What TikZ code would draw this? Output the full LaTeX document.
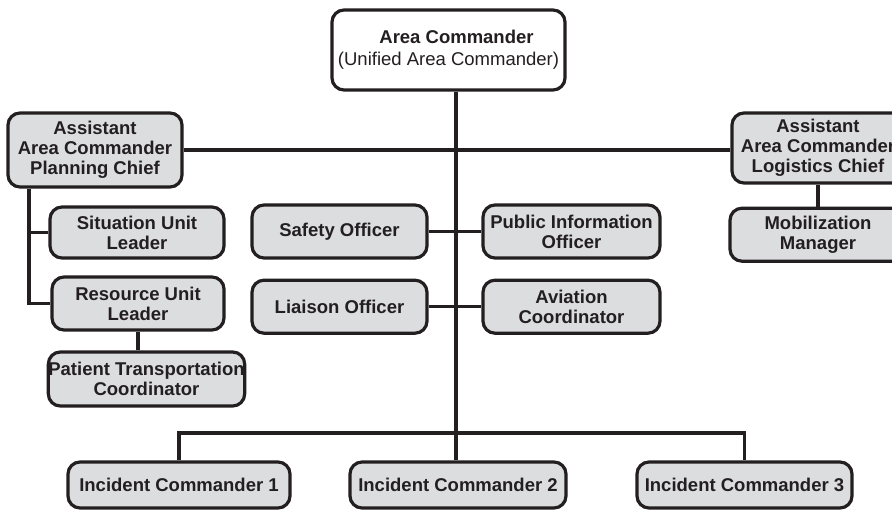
\documentclass[tikz,border=0pt]{standalone}
\usepackage{fontspec}
\setmainfont{Liberation Sans}
\usepackage{tikz}
\usetikzlibrary{positioning,calc}
\definecolor{ink}{HTML}{231F20}
\definecolor{boxgray}{HTML}{DCDDDF}
\tikzset{
    box/.style={draw=ink,fill=boxgray,rounded corners=12pt,line width=3.2pt,align=center,
                inner sep=0pt,font=\fontsize{18.5}{20}\selectfont\bfseries,text=ink},
    topbox/.style={box,fill=white,font=\fontsize{18.5}{22}\selectfont},
    line/.style={-,draw=ink,line width=3.2pt},
}

\begin{document}
\begin{tikzpicture}[x=1pt,y=-1pt]
                \useasboundingbox (0,0) rectangle (892,511);
                \node[topbox,minimum width=233pt,minimum height=80pt] at (448.5,50) (ac)
                    {\hspace*{16pt}\textbf{Area Commander}\\(Unified Area Commander)};
                \node[box,minimum width=174pt,minimum height=74pt] at (95,150) (plan)
                    {Assistant\\Area Commander\\Planning Chief};
                \node[box,minimum width=172pt,minimum height=70pt] at (818,148) (logi)
                    {Assistant\\Area Commander\\Logistics Chief};
                \node[box,minimum width=176pt,minimum height=53pt,below=22pt of logi] (mob)
                    {Mobilization\\Manager};
                \node[box,minimum width=174pt,minimum height=51pt] at (137,232.5) (sit)
                    {Situation Unit\\Leader};
                \node[box,minimum width=172pt,minimum height=53pt] at (138,303.5) (res)
                    {Resource Unit\\Leader};
                \node[box,minimum width=193pt,minimum height=54pt] at (146.5,379) (pat)
                    {Patient Transportation\\Coordinator};
                \node[box,minimum width=175pt,minimum height=53pt] at (339.5,231.5) (saf)
                    {Safety Officer};
                \node[box,minimum width=177pt,minimum height=53pt] at (571.5,231.5) (pub)
                    {Public Information\\Officer};
                \node[box,minimum width=175pt,minimum height=53pt,below=19pt of saf] (lia)
                    {Liaison Officer};
                \node[box,minimum width=177pt,minimum height=53pt,below=19pt of pub] (avi)
                    {Aviation\\Coordinator};
                \node[box,minimum width=222pt,minimum height=46pt] at (179,485) (ic1)
                    {Incident Commander 1};
                \node[box,minimum width=216pt,minimum height=46pt] at (458,485) (ic2)
                    {Incident Commander 2};
                \node[box,minimum width=215pt,minimum height=46pt] at (744.5,485) (ic3)
                    {Incident Commander 3};
                \coordinate (bus) at (456,433);
                \coordinate (spine) at (29,0);
                % main trunk and incident bus
                \draw[line] (ac.south -| bus) -- (bus);
                \draw[line] (ic1.north) |- (bus) -| (ic3.north);
                \draw[line] (bus) -- (bus |- ic2.north);
                % command staff
                \draw[line] (saf) -- (pub);
                \draw[line] (lia) -- (avi);
                \draw[line] (plan.east |- 0,150) -- (logi.west |- 0,150);
                \draw[line] (logi) -- (mob);
                % planning section
                \draw[line] (plan.south -| spine) |- (res.west);
                \draw[line] (sit.west) -- (sit.west -| spine);
                \draw[line] (res.south) -- (res.south |- pat.north);
            \end{tikzpicture}
\end{document}
